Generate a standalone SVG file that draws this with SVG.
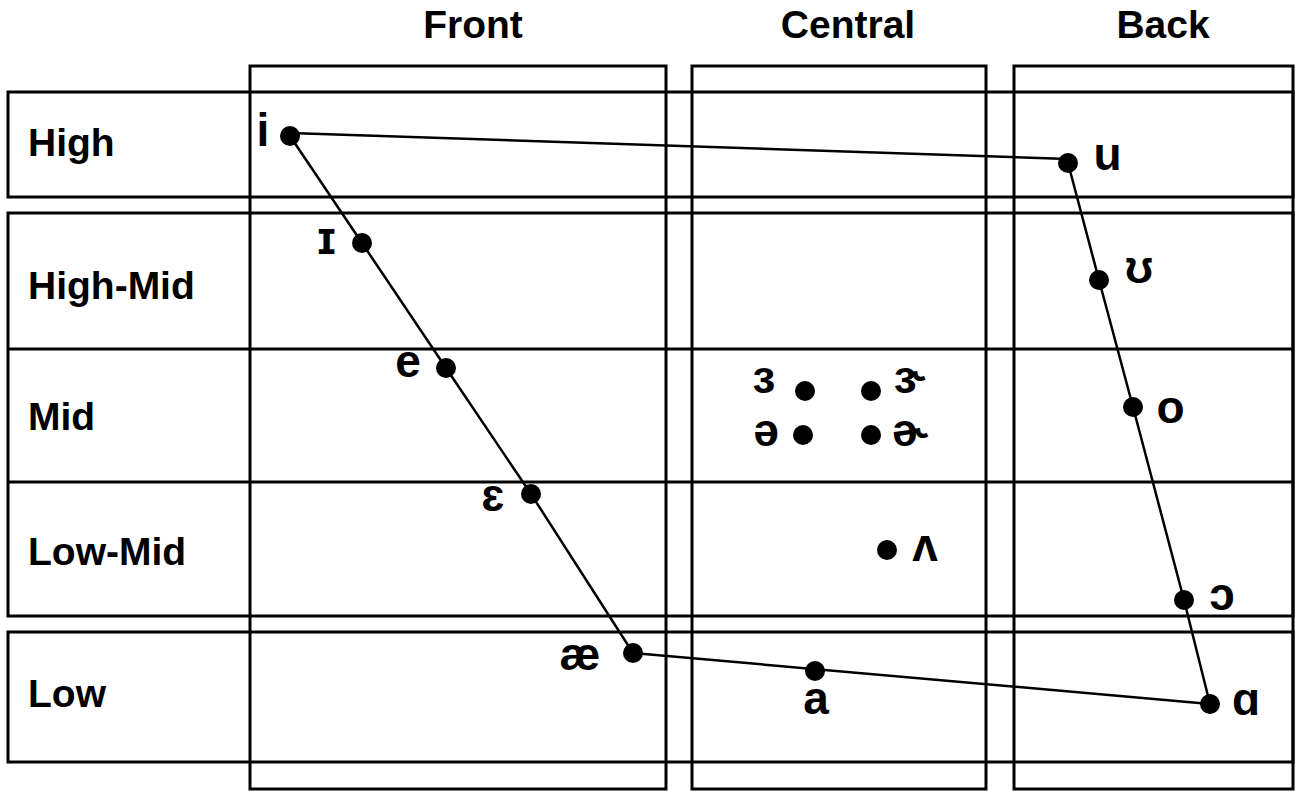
<svg xmlns="http://www.w3.org/2000/svg" width="1296" height="791" viewBox="0 0 1296 791">
<style>
.box{fill:none;stroke:#000;stroke-width:3}
.edge{fill:none;stroke:#000;stroke-width:2.5}
.hdr{font-family:"Liberation Sans",Arial,sans-serif;font-weight:bold;font-size:39px;fill:#000}
.v{font-family:"Liberation Sans","DejaVu Sans",sans-serif;font-weight:bold;font-size:46px;fill:#000;text-anchor:middle}
.dot{fill:#000}
</style>
<rect width="1296" height="791" fill="#fff"/>
<g id="grid">
<rect class="box" x="250" y="66" width="416" height="723"/>
<rect class="box" x="692" y="66" width="294" height="723"/>
<rect class="box" x="1014" y="66" width="279" height="723"/>
<rect class="box" x="8" y="92" width="1285" height="105"/>
<rect class="box" x="8" y="213" width="1285" height="403"/>
<line class="box" x1="8" y1="349" x2="1293" y2="349"/>
<line class="box" x1="8" y1="482" x2="1293" y2="482"/>
<rect class="box" x="8" y="632" width="1285" height="130"/>
</g>
<g id="headers">
<text class="hdr" x="473" y="38" text-anchor="middle">Front</text>
<text class="hdr" x="848" y="38" text-anchor="middle">Central</text>
<text class="hdr" x="1163" y="38" text-anchor="middle">Back</text>
<text class="hdr" x="28" y="156">High</text>
<text class="hdr" x="28" y="299">High-Mid</text>
<text class="hdr" x="28" y="430">Mid</text>
<text class="hdr" x="28" y="565">Low-Mid</text>
<text class="hdr" x="28" y="707">Low</text>
</g>
<g id="connectors">
<line class="edge" x1="290" y1="133" x2="1068" y2="159"/>
<polyline class="edge" points="290,136 362,243 446,368 531,494 633,653"/>
<line class="edge" x1="633" y1="653" x2="1210" y2="704"/>
<polyline class="edge" points="1068,163 1099,280 1133,407 1184,600 1210,704"/>
</g>
<g id="v-i"><circle class="dot" cx="290" cy="136" r="10"/><text class="v" x="263" y="146">i</text></g>
<g id="v-I"><circle class="dot" cx="362" cy="243" r="10"/><text class="v" x="326.5" y="254">ɪ</text></g>
<g id="v-e"><circle class="dot" cx="446" cy="368" r="10"/><text class="v" x="408" y="377">e</text></g>
<g id="v-eps"><circle class="dot" cx="531" cy="494" r="10"/><text class="v" x="493" y="511">ɛ</text></g>
<g id="v-ae"><circle class="dot" cx="633" cy="653" r="10"/><text class="v" x="580" y="670">æ</text></g>
<g id="v-a"><circle class="dot" cx="815" cy="671" r="10"/><text class="v" x="816" y="714">a</text></g>
<g id="v-alpha"><circle class="dot" cx="1210" cy="704" r="10"/><text class="v" x="1246" y="715">ɑ</text></g>
<g id="v-open-o"><circle class="dot" cx="1184" cy="600" r="10"/><text class="v" x="1222" y="610">ɔ</text></g>
<g id="v-o"><circle class="dot" cx="1133" cy="407" r="10"/><text class="v" x="1170.5" y="423">o</text></g>
<g id="v-upsilon"><circle class="dot" cx="1099" cy="280" r="10"/><text class="v" x="1139" y="283">ʊ</text></g>
<g id="v-u"><circle class="dot" cx="1068" cy="163" r="10"/><text class="v" x="1107.5" y="170">u</text></g>
<g id="v-rev-eps"><circle class="dot" cx="805" cy="391" r="10"/><text class="v" x="764" y="393">ɜ</text></g>
<g id="v-rev-eps-r"><circle class="dot" cx="871" cy="391" r="10"/><text class="v" x="910" y="393">ɝ</text></g>
<g id="v-schwa"><circle class="dot" cx="803" cy="435" r="10"/><text class="v" x="766" y="446">ə</text></g>
<g id="v-schwa-r"><circle class="dot" cx="871" cy="435" r="10"/><text class="v" x="910" y="446">ɚ</text></g>
<g id="v-wedge"><circle class="dot" cx="887" cy="550" r="10"/><text class="v" x="925" y="561">ʌ</text></g>
</svg>
